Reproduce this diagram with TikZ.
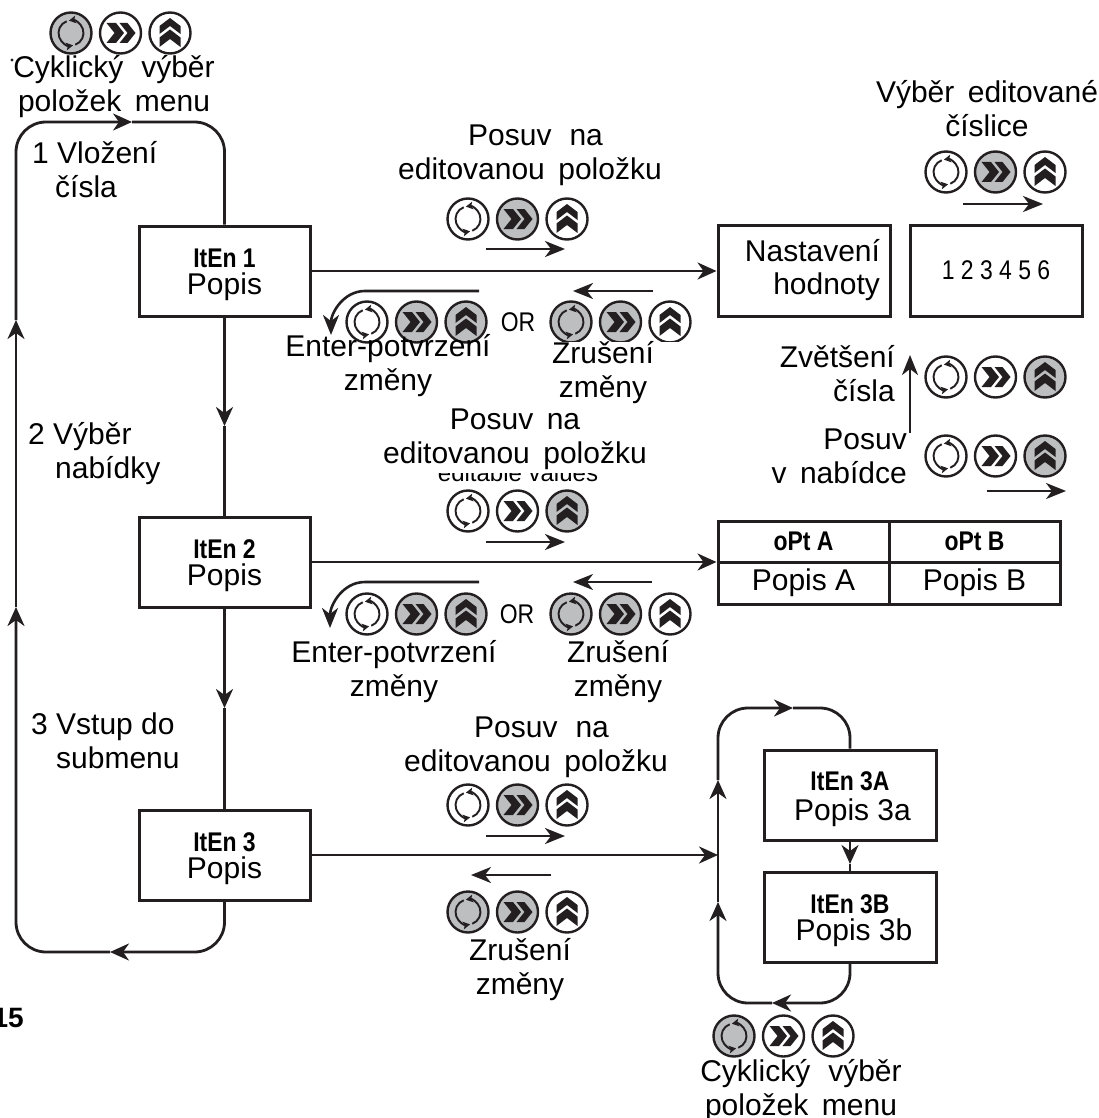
\documentclass[tikz,border=0pt]{standalone}
\usepackage{fontspec}
\setmainfont{Liberation Sans}
\newfontfamily\condf[FakeStretch=0.85]{Liberation Sans}
\usetikzlibrary{arrows.meta,calc}
\definecolor{ink}{HTML}{231F20}
\definecolor{keygray}{HTML}{BCBEC0}
\newcommand{\W}{\hspace{0.45em}}
\newcommand{\WW}{\hspace{0.6em}}
\newcommand{\hd}[1]{{\fontsize{27}{27}\condf\bfseries #1}}
\newcommand{\hdr}[1]{{\rule{0pt}{27pt}\fontsize{27}{27}\condf\bfseries #1}}
\newcommand{\keycycle}[3]{%
  \begin{scope}[shift={(#1,#2)}]
    \draw[keyring,fill=#3] (0,0) circle (20.5);
    \draw[keyarc] (250:12.5) arc (250:80:12.5);
    \draw[keyarc] (70:12.5) arc (70:-100:12.5);
  \end{scope}}
\newcommand{\keyshift}[3]{%
  \begin{scope}[shift={(#1,#2)}]
    \draw[keyring,fill=#3] (0,0) circle (20.5);
    \fill[ink] (-14,-10) -- (-4.5,-10) -- (3.5,0) -- (-4.5,10) -- (-14,10) -- (-6,0) -- cycle;
    \fill[ink] (-1,-10) -- (7,-10) -- (15,0) -- (7,10) -- (-1,10) -- (7,0) -- cycle;
  \end{scope}}
\newcommand{\keyup}[3]{%
  \begin{scope}[shift={(#1,#2)}]
    \draw[keyring,fill=#3] (0,0) circle (20.5);
    \fill[ink] (-10.5,14) -- (-10.5,4.5) -- (0,-3.5) -- (10.5,4.5) -- (10.5,14) -- (0,6) -- cycle;
    \fill[ink] (-10.5,1) -- (-10.5,-7) -- (0,-15) -- (10.5,-7) -- (10.5,1) -- (0,-7) -- cycle;
  \end{scope}}
% first key centre x, y, three fills
\newcommand{\trio}[5]{%
  \keycycle{#1}{#2}{#3}%
  \keyshift{#1+49.5}{#2}{#4}%
  \keyup{#1+99}{#2}{#5}}
\tikzset{
  wire/.style={draw=ink,line width=2.8pt},
  tip/.style={-{Stealth[length=19pt,width=17pt,inset=6pt]}},
  keyring/.style={draw=ink,line width=2.4pt},
  keyarc/.style={draw=ink,line width=1.9pt,-{Stealth[length=7pt,width=7.5pt,inset=1.5pt]}},
  stepbox/.style={draw=ink,line width=3pt,inner sep=0pt,align=center,
    font=\fontsize{30}{27}\selectfont},
  lbl/.style={inner sep=0pt,align=center,font=\fontsize{30}{34}\selectfont},
}
\begin{document}
\begin{tikzpicture}[x=1pt,y=-1pt]
\useasboundingbox (0,0) rectangle (1099,1118);
% key groups
\trio{71}{33}{keygray}{white}{white}
\trio{468}{219}{white}{keygray}{white}
\trio{367}{322}{white}{keygray}{keygray}
\trio{571}{322}{keygray}{keygray}{white}
\trio{946}{172}{white}{keygray}{white}
\trio{946}{377}{white}{white}{keygray}
\trio{946}{456}{white}{white}{keygray}
\trio{468}{511}{white}{white}{keygray}
\trio{367}{614}{white}{keygray}{keygray}
\trio{571}{614}{keygray}{keygray}{white}
\trio{468}{805}{white}{keygray}{white}
\trio{468}{912}{keygray}{keygray}{white}
\trio{734}{1036}{keygray}{white}{white}
% white patch that cuts the cancel keys, and the covered text
\fill[white] (540,342) rectangle (690,350);
\begin{scope}
  \clip (430,473.5) rectangle (610,490);
  \node[inner sep=0pt,anchor=base,font=\fontsize{24}{26}\selectfont] (hiddenval) at (518,481) {editable values};
\end{scope}
% boxes
\node[stepbox,minimum width=171,minimum height=90] (item1) at (224.5,271) {\hdr{ItEn 1}\\Popis};
\node[stepbox,minimum width=171,minimum height=90] (item2) at (224.5,562) {\hdr{ItEn 2}\\Popis};
\node[stepbox,minimum width=171,minimum height=90] (item3) at (224.5,855) {\hdr{ItEn 3}\\Popis};
\node[stepbox,minimum width=172,minimum height=91,text width=152,inner xsep=10pt,align=right,
  font=\fontsize{30}{33}\selectfont] (setval) at (804,270.5) {Nastavení\\hodnoty};
\node[stepbox,minimum width=172,minimum height=91,font=\fontsize{27}{30}\condf] (digits) at (996,270.5) {1 2 3 4 5 6};
\node[stepbox,minimum width=171,minimum height=41] (opta) at (803.5,541.5) {\hd{oPt A}};
\node[stepbox,minimum width=171,minimum height=41] (optb) at (974.5,541.5) {\hd{oPt B}};
\node[stepbox,minimum width=171,minimum height=42] (popa) at (803.5,583) {Popis A};
\node[stepbox,minimum width=171,minimum height=42] (popb) at (974.5,583) {Popis B};
\node[stepbox,minimum width=172,minimum height=90] (item3a) at (850,795) {\hdr{ItEn 3A}\\[3pt]\hspace*{5pt}Popis 3a};
\node[stepbox,minimum width=172,minimum height=90] (item3b) at (850,917) {\hdr{ItEn 3B}\\\hspace*{8pt}Popis 3b};
% main loop
\coordinate (lbot) at (110,952);
\coordinate (lmid) at (16,607);
\coordinate (lup) at (16,320);
\coordinate (ltop) at (132,122);
\draw[wire,tip,rounded corners=30pt] (item3.south) |- (lbot);
\draw[wire,tip,rounded corners=30pt] (lbot) -| (lmid);
\draw[wire,tip] (lmid) -- (lup);
\draw[wire,tip,rounded corners=30pt] (lup) |- (ltop);
\draw[wire,rounded corners=30pt] (ltop) -| (item1.north);
\coordinate (d1) at (224.5,426);
\coordinate (d2) at (224.5,708);
\draw[wire,tip] (item1.south) -- (d1);
\draw[wire] (d1) -- (item2.north);
\draw[wire,tip] (item2.south) -- (d2);
\draw[wire] (d2) -- (item3.north);
% horizontal connectors
\draw[wire,tip] (item1.east) -- (item1.east -| setval.west);
\draw[wire,tip] (item2.east) -- (item2.east -| opta.west);
\coordinate (rjoin) at (718,855);
\draw[wire,tip] (item3.east) -- (rjoin);
% submenu loop
\coordinate (rtop) at (793,708);
\coordinate (rup) at (718,780);
\coordinate (rmid) at (718,902);
\coordinate (rbot) at (772,1003);
\draw[wire,tip,rounded corners=30pt] (item3b.south) |- (rbot);
\draw[wire,tip,rounded corners=30pt] (rbot) -| (rmid);
\draw[wire,tip] (rmid) -- (rup);
\draw[wire,tip,rounded corners=30pt] (rup) |- (rtop);
\draw[wire,rounded corners=30pt] (rtop) -| (item3a.north);
\coordinate (d3) at (850,864);
\draw[wire,tip] (item3a.south) -- (d3);
\draw[wire] (d3) -- (item3b.north);
% direction arrows
\foreach \n/\ax/\ay/\bx/\by in {a/486/249/565/249, b/653/291/573/291, c/963/204/1043/204,
  d/910/433/910/355, e/987/491/1066/491, f/486/542/565/542, g/652/582/573/582,
  h/486/836/565/836, i/551/875/471/875}{
  \coordinate (s\n) at (\ax,\ay);
  \coordinate (t\n) at (\bx,\by);
  \draw[wire,line width=2.4pt,-{Stealth[length=20pt,width=16pt,inset=6pt]}] (s\n) -- (t\n);
}
\coordinate (ca) at (479,291);
\coordinate (cb) at (331,335);
\draw[wire,line width=2.6pt,-{Stealth[length=20pt,width=16pt,inset=6pt]}] (ca) -- (365,291) to[out=180,in=90] (cb);
\coordinate (cc) at (479,582);
\coordinate (cd) at (330,628);
\draw[wire,line width=2.6pt,-{Stealth[length=20pt,width=16pt,inset=6pt]}] (cc) -- (365,582) to[out=180,in=90] (cd);
% labels
\node[lbl] (ltopc) at (114,87) {Cyklický\WW výběr\\položek\W menu};
\fill[ink] (12,60) circle (1.6);
\node[lbl,align=left,anchor=west] (l1) at (32,170) {1 Vložení\\\hspace*{23pt}čísla};
\node[lbl,align=left,anchor=west] (l2) at (28,454) {2 Výběr\\\hspace*{27pt}nabídky};
\node[lbl,align=left,anchor=west] (l3) at (31,741) {3 Vstup do\\\hspace*{25pt}submenu};
\node[lbl] (p1) at (530,155) {\hspace*{11pt}Posuv\WW na\\editovanou\W položku};
\node[lbl] (e1) at (388,366) {Enter-potvrzení\\změny};
\node[lbl] (z1) at (603,373) {Zrušení\\změny};
\node[font=\fontsize{27}{30}\condf,inner sep=0pt] (or1) at (518,322) {OR};
\node[lbl] (p2) at (515,439) {Posuv\W na\\editovanou\W položku};
\node[lbl] (e2) at (394,672) {Enter-potvrzení\\změny};
\node[lbl] (z2) at (618,672) {Zrušení\\změny};
\node[font=\fontsize{27}{30}\condf,inner sep=0pt] (or2) at (517,614) {OR};
\node[lbl] (p3) at (536,747) {\hspace*{11pt}Posuv\WW na\\editovanou\W položku};
\node[lbl] (z3) at (520,970) {Zrušení\\změny};
\node[lbl] (ltopb) at (801,1091) {Cyklický\WW výběr\\položek\W menu};
\node[lbl] (sel) at (987,109) {Výběr\W editované\\číslice};
\node[lbl,align=right,anchor=east] (inc) at (895,374) {Zvětšení\\čísla};
\node[lbl,align=right,anchor=east] (mv) at (907,456) {Posuv\\v\W nabídce};
\node[inner sep=0pt,anchor=base east,font=\fontsize{28}{30}\bfseries] (fig) at (24,1027) {15};
\end{tikzpicture}
\end{document}
